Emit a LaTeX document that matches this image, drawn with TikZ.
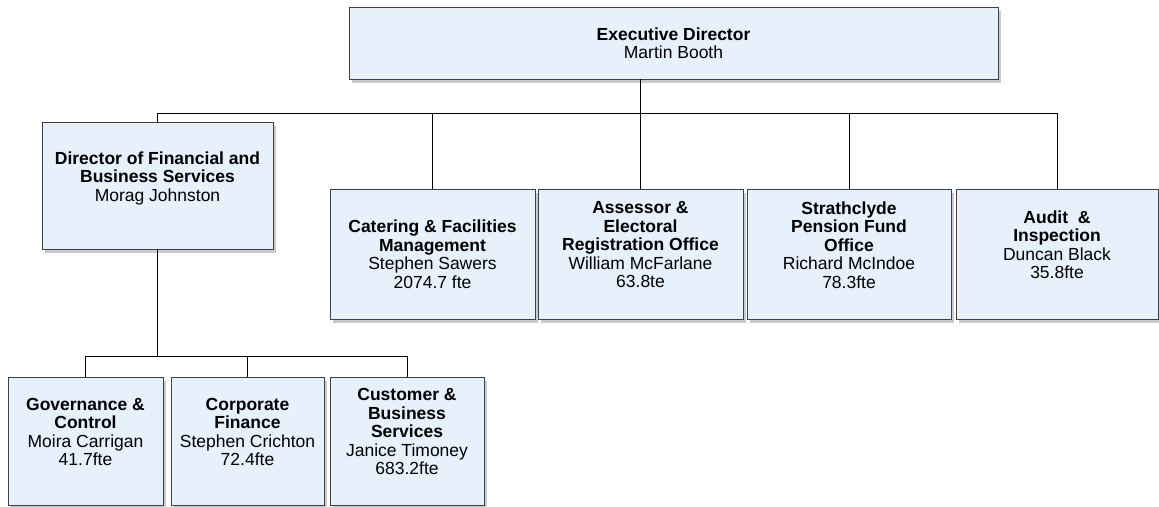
\documentclass[tikz,border=0pt]{standalone}
\usepackage{fontspec}
\setmainfont{Liberation Sans}
\usetikzlibrary{shadows}
\definecolor{boxfill}{RGB}{230,241,252}
\definecolor{boxline}{RGB}{64,64,64}
\tikzset{
  unit/.style={draw=boxline, line width=0.9pt, fill=boxfill, align=center,
    inner sep=2pt, font=\fontsize{17.5}{18.5}\selectfont,
    drop shadow={shadow xshift=3pt, shadow yshift=-4pt, fill=black!40}},
  link/.style={draw=black, line width=0.9pt},
}
\begin{document}
\begin{tikzpicture}[x=1pt, y=-1pt]
  \useasboundingbox (0,0) rectangle (1159,506);
  \fill[white] (0,0) rectangle (1159,506);
  % top level
  \node[unit, minimum width=649pt, minimum height=72pt] (exec) at (673.5,43)
    {\textbf{Executive Director}\\Martin Booth};
  % second level
  \node[unit, minimum width=231pt, minimum height=127pt] (dfbs) at (157.5,185.5)
    {\textbf{Director of Financial and}\\\textbf{Business Services}\\Morag Johnston\\};
  \node[unit, minimum width=205pt, minimum height=130pt] (cfm) at (432.5,254)
    {\textbf{Catering \& Facilities}\\\textbf{Management}\\Stephen Sawers\\2074.7 fte};
  \node[unit, minimum width=205pt, minimum height=130pt] (aero) at (640.5,254)
    {\textbf{Assessor \&}\\\textbf{Electoral}\\\textbf{Registration Office}\\William McFarlane\\63.8te\\};
  \node[unit, minimum width=204pt, minimum height=130pt] (spfo) at (849,254)
    {\textbf{Strathclyde}\\\textbf{Pension Fund}\\\textbf{Office}\\Richard McIndoe\\78.3fte\\};
  \node[unit, minimum width=202pt, minimum height=130pt] (audit) at (1057,254)
    {\textbf{Audit\ \ \&}\\\textbf{Inspection}\\Duncan Black\\35.8fte\\};
  % third level
  \node[unit, minimum width=155pt, minimum height=128pt] (gov) at (85.5,441)
    {\textbf{Governance \&}\\\textbf{Control}\\Moira Carrigan\\41.7fte\\};
  \node[unit, minimum width=153pt, minimum height=128pt] (corp) at (247.5,441)
    {\textbf{Corporate}\\\textbf{Finance}\\Stephen Crichton\\72.4fte\\};
  \node[unit, minimum width=154pt, minimum height=128pt] (cbs) at (407,441)
    {\textbf{Customer \&}\\\textbf{Business}\\\textbf{Services}\\Janice Timoney\\683.2fte\\};
  % connectors
  \coordinate (bus) at (0,113);
  \coordinate (sub) at (0,356);
  \draw[link] (aero.north |- exec.south) -- (aero.north |- bus);
  \draw[link] (dfbs.north) |- (bus -| audit.north) -- (audit.north);
  \draw[link] (cfm.north) -- (cfm.north |- bus);
  \draw[link] (aero.north) -- (aero.north |- bus);
  \draw[link] (spfo.north) -- (spfo.north |- bus);
  \draw[link] (dfbs.south) -- (dfbs.south |- sub);
  \draw[link] (gov.north) |- (sub -| cbs.north) -- (cbs.north);
  \draw[link] (corp.north) -- (corp.north |- sub);
\end{tikzpicture}
\end{document}
